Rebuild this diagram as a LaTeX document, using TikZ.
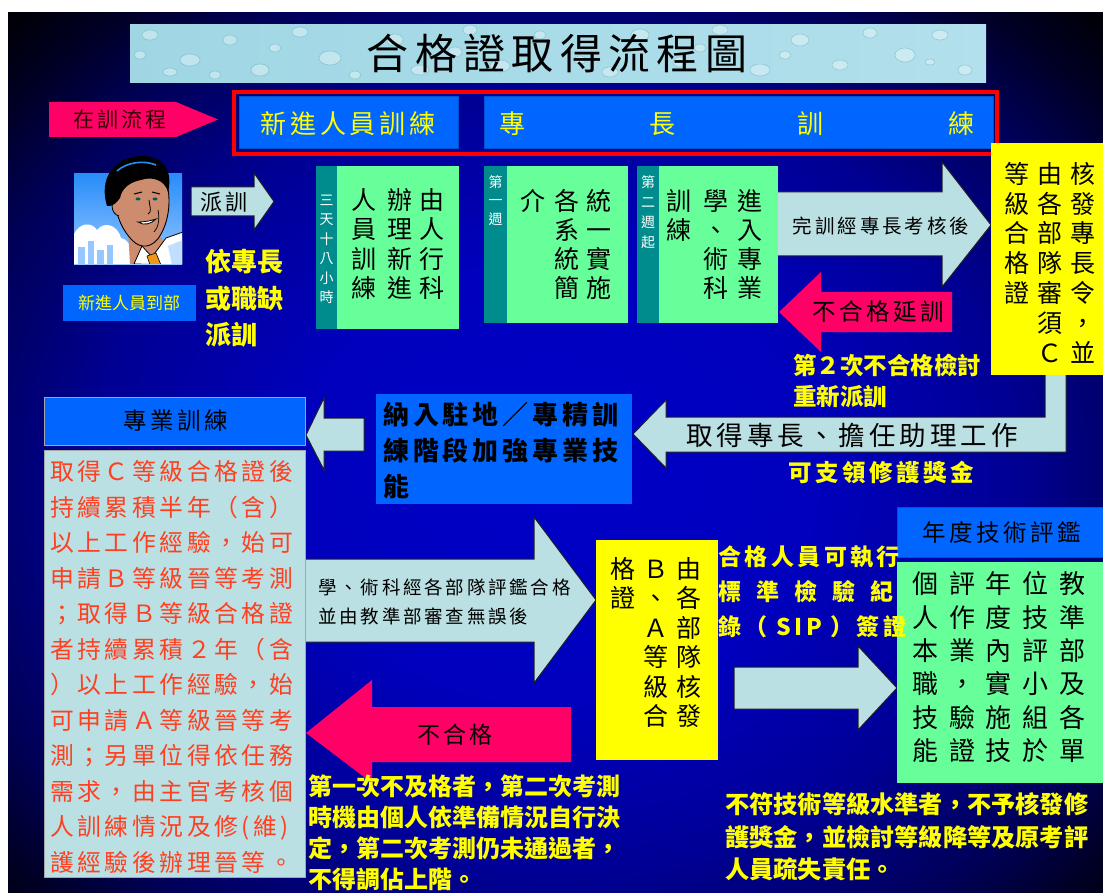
\documentclass[tikz,border=0pt]{standalone}
\usepackage{fontspec}
\newfontfamily\tc{Noto Sans CJK TC}
\newfontfamily\tcs[LetterSpace=15]{Noto Sans CJK TC}
\usetikzlibrary{calc}

\definecolor{boxblue}{RGB}{0,102,255}
\definecolor{hotpink}{RGB}{255,0,102}
\definecolor{powder}{RGB}{187,224,227}
\definecolor{mint}{RGB}{102,255,153}
\definecolor{tealstrip}{RGB}{0,140,140}
\definecolor{lemon}{RGB}{255,255,0}
\definecolor{redtext}{RGB}{255,64,32}
\definecolor{aqualeft}{RGB}{160,214,228}
\definecolor{aquaright}{RGB}{178,224,236}
\definecolor{skyblue}{RGB}{40,140,250}
\definecolor{skylight}{RGB}{150,200,255}
\definecolor{skin}{RGB}{205,140,110}
\definecolor{tieorange}{RGB}{240,150,20}
\definecolor{outline}{RGB}{30,30,40}

% radial glow of the slide background: bright blue centre, black rim
\pgfdeclareradialshading{slideglow}{\pgfpoint{0bp}{0bp}}{%
  rgb(0bp)=(0,0,0.78); rgb(12bp)=(0,0,0.74); rgb(21bp)=(0,0,0.58);
  rgb(28bp)=(0,0,0.34); rgb(32bp)=(0,0,0.14); rgb(35bp)=(0,0,0.03); rgb(50bp)=(0,0,0)}

% one node per line (or per character for vertical columns)
% #1 name, #2 anchor, #3 x, #4 centre y of first line, #5 step,
% #6 family, #7 size, #8 style, #9 list of lines
\newcommand\tlines[9]{%
  \foreach \tline [count=\i from 0] in {#9}{%
    \node[#8, anchor=#2, inner sep=0pt, font=#6\fontsize{#7}{#7}\selectfont]
      (#1-\i) at (#3, {#4+\i*#5+0.37*#7}) {\tline};}}

\begin{document}
\begin{tikzpicture}[x=1pt,y=-1pt,
  box/.style={inner sep=0pt, anchor=north west},
  blockarrow/.style={fill=powder, draw=outline, line width=1pt, line join=miter},
  pinkarrow/.style={fill=hotpink},
  bold/.style={execute at begin node=\bfseries},
  ytext/.style={text=lemon},
  btext/.style={text=black}]

\useasboundingbox (0,0) rectangle (1103,893);
\fill[white] (0,0) rectangle (1103,893);
\begin{scope}
  \clip (8,13) rectangle (1103,893);
  \fill[black] (8,13) rectangle (1103,893);
  \shade[shading=slideglow] (8,13) rectangle (1103,950);
\end{scope}

% ---------- title banner ----------
\node[box, left color=aqualeft, right color=aquaright,
      minimum width=856, minimum height=58] (titlebox) at (130,24) {};
\begin{scope}
  \clip (130,24) rectangle (986,82);
  \foreach \dx/\dy/\rx/\ry in {150/35/8/5,190/60/10/6,230/40/7/5,260/70/9/6,
      300/32/8/5,330/58/11/7,215/75/6/4,170/72/7/4,395/40/8/6,420/70/9/5,
      470/30/7/5,500/66/10/6,540/35/6/4,610/72/8/5,640/35/9/6,680/62/7/5,
      720/30/8/5,760/70/10/6,800/40/9/6,840/65/8/5,870/33/7/5,905/55/10/7,
      940/35/8/5,965/70/7/5,140/55/6/4,355/75/6/4,580/60/6/4,785/55/6/4,
      275/48/6/4,455/52/7/5,700/48/6/4,930/62/5/3}
    {\fill[white, opacity=0.35] (\dx,\dy) ellipse [x radius=\rx, y radius=\ry];
     \draw[teal, opacity=0.25, line width=0.6pt] (\dx,\dy) ellipse [x radius=\rx, y radius=\ry];}
\end{scope}
\tlines{title}{base}{557}{54}{0}{\tcs}{42}{btext}{合格證取得流程圖}

% ---------- header row ----------
\fill[hotpink] (49,102) -- (176,102) -- (218,119.5) -- (176,137) -- (49,137) -- cycle;
\tlines{inflow}{base}{120}{120}{0}{\tcs}{21}{text=black!80!red}{在訓流程}
\draw[red, line width=3.5pt] (234,92) rectangle (997,154);
\node[box, fill=boxblue, draw=boxblue!80!black, minimum width=219, minimum height=52] (newhead) at (239,96) {};
\node[box, fill=boxblue, draw=boxblue!80!black, minimum width=509, minimum height=52] (spechead) at (484,96) {};
\tlines{newheadtext}{base}{348}{124}{0}{\tcs}{26}{ytext}{新進人員訓練}
\tlines{sh1}{base}{512}{124}{0}{\tc}{26}{ytext}{專}
\tlines{sh2}{base}{662}{124}{0}{\tc}{26}{ytext}{長}
\tlines{sh3}{base}{810}{124}{0}{\tc}{26}{ytext}{訓}
\tlines{sh4}{base}{961}{124}{0}{\tc}{26}{ytext}{練}

% ---------- recruit portrait ----------
\node[box, minimum width=108, minimum height=91, top color=skyblue, bottom color=skylight] (portrait) at (74,173) {};
\begin{scope}
  \clip (74,173) rectangle (182,264);
  \fill[white] (74,264) -- (74,234) .. controls (80,222) and (92,222) .. (97,230)
     .. controls (105,220) and (118,226) .. (121,238) .. controls (130,240) and (134,252) .. (132,264) -- cycle;
  \fill[skylight] (78,264) rectangle (85,247);
  \fill[skylight] (88,264) rectangle (94,241);
  \fill[skylight] (97,264) rectangle (104,250);
  \fill[skylight] (107,264) rectangle (113,245);
  % neck
  \fill[skin] (128,230) -- (162,238) -- (170,264) -- (130,264) -- cycle;
  % shirt and collar
  \fill[white, draw=black, line width=0.8pt] (134,264) -- (142,246) -- (152,257) -- (166,238) -- (183,232) -- (183,265) -- cycle;
  \fill[skylight!60!white] (168,246) -- (183,240) -- (183,265) -- (172,265) -- cycle;
  \fill[tieorange, draw=black, line width=0.6pt] (147,256) -- (156,253) -- (161,265) -- (150,265) -- cycle;
\end{scope}
% face
\fill[skin, draw=black, line width=0.9pt] (116,190) .. controls (118,172) and (160,168) .. (167,184)
   .. controls (171,200) and (169,220) .. (161,234) .. controls (153,249) and (140,249) .. (132,240)
   .. controls (124,232) and (118,220) .. (116,208) -- cycle;
\fill[skin, draw=black, line width=0.8pt] (118,200) .. controls (110,198) and (110,214) .. (119,216);
% hair
\fill[black] (107,206) .. controls (99,180) and (112,158) .. (140,156)
   .. controls (160,155) and (174,168) .. (168,192) .. controls (165,180) and (152,176) .. (141,180)
   .. controls (130,182) and (122,188) .. (120,198) .. controls (117,202) and (113,207) .. (107,206) -- cycle;
\draw[skyblue, line width=1.6pt] (117,171) .. controls (127,162) and (144,160) .. (156,165);
% features
\draw[line width=1pt] (134,194) -- (142,192);
\draw[line width=1pt] (152,192) -- (160,194);
\fill[teal!70!black] (138,199) ellipse [x radius=2.5, y radius=1.5];
\fill[teal!70!black] (155,199) ellipse [x radius=2.5, y radius=1.5];
\draw[line width=0.8pt] (149,200) .. controls (150,208) and (152,212) .. (148,214);
\fill[white, draw=black, line width=0.8pt] (138,222) .. controls (144,226) and (151,224) .. (156,219) .. controls (150,221) and (144,222) .. (138,222) -- cycle;
\draw[line width=0.7pt] (158,210) .. controls (160,220) and (158,228) .. (154,232);

\node[box, fill=boxblue, minimum width=133, minimum height=36] (arrive) at (63,285) {};
\tlines{arrivetext}{base}{129}{303}{0}{\tc}{17}{ytext}{新進人員到部}

% dispatch arrow
\draw[blockarrow] (191,187) -- (254,187) -- (254,173) -- (274,201.5) -- (254,230) -- (254,216) -- (191,216) -- cycle;
\tlines{dispatch}{base}{224}{202}{0}{\tcs}{22}{btext}{派訓}
\tlines{assign}{base west}{205}{262}{36.5}{\tc}{26}{ytext,bold}{依專長,或職缺,派訓}

% ---------- specialty training arrows ----------
\draw[blockarrow] (770,192) -- (942,192) -- (942,162) -- (991,225) -- (942,287) -- (942,256) -- (770,256) -- cycle;
\tlines{passcheck}{base}{881}{226}{0}{\tcs}{19.5}{btext}{完訓經專長考核後}
\fill[hotpink] (779,312) -- (821,272) -- (821,292) -- (952,292) -- (952,332) -- (821,332) -- (821,352) -- cycle;
\tlines{retrain}{base}{878}{312}{0}{\tcs}{23.5}{btext}{不合格延訓}
\tlines{second}{base west}{793}{366}{31}{\tc}{23.5}{ytext,bold}{第２次不合格檢討,重新派訓}

% elbow arrow back to the left
\draw[blockarrow] (633,434) -- (666,400) -- (666,417) -- (1045,417) -- (1045,370) -- (1066,370)
   -- (1066,452) -- (666,452) -- (666,468) -- cycle;
\tlines{qualified}{base}{852}{436}{0}{\tcs}{26.5}{btext}{取得專長、擔任助理工作}
\tlines{bonus}{base}{881}{473}{0}{\tcs}{23.5}{ytext,bold}{可支領修護獎金}

% arrow into the professional training box
\draw[blockarrow] (306,435) -- (324,398) -- (324,418) -- (364,418) -- (364,451) -- (324,451) -- (324,470) -- cycle;

% big arrow toward B/A certificate
\draw[blockarrow] (305,559) -- (534,559) -- (534,517) -- (596,600) -- (534,683) -- (534,642) -- (305,642) -- cycle;
\tlines{evaluate}{base west}{318}{588}{29}{\tcs}{18.5}{btext}{學、術科經各部隊評鑑合格,並由教準部審查無誤後}

% failing arrow
\fill[hotpink] (306,733) -- (372,680) -- (372,707) -- (571,707) -- (571,762) -- (372,762) -- (372,783) -- cycle;
\tlines{fail}{base}{455}{735}{0}{\tcs}{23}{btext}{不合格}

% arrow toward annual evaluation
\draw[blockarrow] (734,667) -- (858,667) -- (858,646) -- (897,688) -- (858,730) -- (858,709) -- (734,709) -- cycle;

% ---------- training week boxes ----------
\node[box, fill=tealstrip, minimum width=21, minimum height=163] (strip1) at (316,166) {};
\node[box, fill=mint, minimum width=122, minimum height=163] (week0) at (337,166) {};
\tlines{s1}{base}{326.5}{200}{19.5}{\tc}{14}{text=white}{三,天,十,八,小,時}
\tlines{w0a}{base}{432}{200}{29.5}{\tc}{25}{btext}{由,人,行,科}
\tlines{w0b}{base}{400}{200}{29.5}{\tc}{25}{btext}{辦,理,新,進}
\tlines{w0c}{base}{364}{200}{29.5}{\tc}{25}{btext}{人,員,訓,練}

\node[box, fill=tealstrip, minimum width=23, minimum height=157] (strip2) at (484,166) {};
\node[box, fill=mint, minimum width=121, minimum height=157] (week1) at (507,166) {};
\tlines{s2}{base}{495.5}{182}{18.5}{\tc}{14}{text=white}{第,一,週}
\tlines{w1a}{base}{599}{201}{29}{\tc}{25}{btext}{統,一,實,施}
\tlines{w1b}{base}{567}{201}{29}{\tc}{25}{btext}{各,系,統,簡}
\tlines{w1c}{base}{533}{201}{29}{\tc}{25}{btext}{介}

\node[box, fill=tealstrip, minimum width=22, minimum height=157] (strip3) at (637,166) {};
\node[box, fill=mint, minimum width=119, minimum height=157] (week2) at (659,166) {};
\tlines{s3}{base}{648}{182}{20}{\tc}{14}{text=white}{第,二,週,起}
\tlines{w2a}{base}{750}{201}{29}{\tc}{25}{btext}{進,入,專,業}
\tlines{w2b}{base}{716}{201}{29}{\tc}{25}{btext}{學,、,術,科}
\tlines{w2c}{base}{679}{201}{29}{\tc}{25}{btext}{訓,練}

% ---------- C-level certificate ----------
\node[box, fill=lemon, minimum width=115, minimum height=232] (certc) at (991,143) {};
\tlines{cc1}{base}{1083}{174}{29.8}{\tc}{25}{btext}{核,發,專,長,令,，,並}
\tlines{cc2}{base}{1050}{174}{29.8}{\tc}{25}{btext}{由,各,部,隊,審,須,Ｃ}
\tlines{cc3}{base}{1017}{174}{29.8}{\tc}{25}{btext}{等,級,合,格,證}

% ---------- station training ----------
\node[box, fill=boxblue, minimum width=256, minimum height=110] (station) at (376,394) {};
\tlines{stationtext}{base west}{383}{415}{36}{\tcs}{26}{btext,bold}{納入駐地／專精訓,練階段加強專業技,能}

\node[box, fill=boxblue, draw=gray!70, minimum width=261, minimum height=48] (prof) at (44,397) {};
\tlines{proftext}{base}{176}{421}{0}{\tcs}{23.5}{btext}{專業訓練}
\node[box, fill=powder, draw=gray!70, minimum width=261, minimum height=427] (rules) at (44,450) {};
\tlines{rulestext}{base west}{50}{472}{35.5}{\tcs}{23.8}{text=redtext}{取得Ｃ等級合格證後,持續累積半年（含）,以上工作經驗，始可,申請Ｂ等級晉等考測,；取得Ｂ等級合格證,者持續累積２年（含,）以上工作經驗，始,可申請Ａ等級晉等考,測；另單位得依任務,需求，由主官考核個,人訓練情況及修(維),護經驗後辦理晉等。}

% ---------- B/A certificate ----------
\node[box, fill=lemon, minimum width=122, minimum height=220] (certba) at (596,540) {};
\tlines{ba1}{base}{689}{569}{29.5}{\tc}{25}{btext}{由,各,部,隊,核,發}
\tlines{ba2}{base}{656}{569}{29.5}{\tc}{25}{btext}{Ｂ,、,Ａ,等,級,合}
\tlines{ba3}{base}{623}{569}{29.5}{\tc}{25}{btext}{格,證}

% ---------- annual evaluation ----------
\node[box, fill=boxblue, draw=boxblue!80!black, minimum width=210, minimum height=50] (annual) at (897,507) {};
\tlines{annualtext}{base}{1002}{533}{0}{\tcs}{23.5}{btext}{年度技術評鑑}
\node[box, fill=mint, minimum width=210, minimum height=221] (annualbody) at (897,562) {};
\tlines{an1}{base}{1072}{584}{33.4}{\tc}{26}{btext}{教,準,部,及,各,單}
\tlines{an2}{base}{1035}{584}{33.4}{\tc}{26}{btext}{位,技,評,小,組,於}
\tlines{an3}{base}{998}{584}{33.4}{\tc}{26}{btext}{年,度,內,實,施,技}
\tlines{an4}{base}{962}{584}{33.4}{\tc}{26}{btext}{評,作,業,，,驗,證}
\tlines{an5}{base}{925}{584}{33.4}{\tc}{26}{btext}{個,人,本,職,技,能}

% SIP note sits on top of the evaluation box edge
\tlines{sip}{base west}{718}{557}{35}{\tcs}{23}{ytext,bold}{合格人員可執行,標\hspace{15pt}準\hspace{15pt}檢\hspace{15pt}驗\hspace{15pt}紀,錄（ SIP ）簽證}

% ---------- notes ----------
\tlines{retest}{base west}{308}{787}{31}{\tc}{24}{ytext,bold}{第一次不及格者，第二次考測,時機由個人依準備情況自行決,定，第二次考測仍未通過者，,不得調佔上階。}
\tlines{substd}{base west}{725}{805}{32.5}{\tc}{24.2}{ytext,bold}{不符技術等級水準者，不予核發修,護獎金，並檢討等級降等及原考評,人員疏失責任。}

\end{tikzpicture}
\end{document}
